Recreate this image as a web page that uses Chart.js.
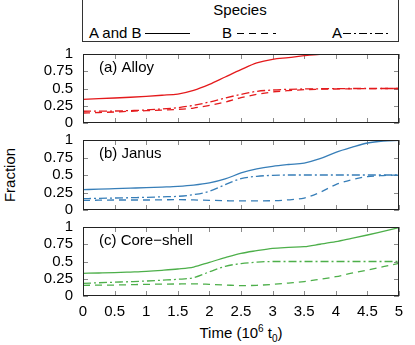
<!DOCTYPE html>
<html>
<head>
<meta charset="utf-8">
<script src="https://cdn.jsdelivr.net/npm/chart.js@4.4.1/dist/chart.umd.min.js"></script>
<style>
  body { margin: 0; width: 415px; height: 345px; overflow: hidden; background: #fff; position: relative;
         font-family: "Liberation Sans", Arial, sans-serif; font-size: 15px; color: #000; }
  canvas { position: absolute; left: 0; }
  #key { position: absolute; left: 82px; top: -2px; width: 317px; height: 44px; border: 1px solid #333; box-sizing: border-box; }
  .t { position: absolute; white-space: nowrap; line-height: 16px; }
  #keylines { position: absolute; left: 0; top: 0; }
  sup, sub { font-size: 10px; line-height: 0; }
</style>
</head>
<body>
<div id="key"></div>
<div class="t" style="left:240px; top:10px; transform:translate(-50%,-50%)">Species</div>
<div class="t" style="left:89px; top:25px">A and B</div>
<div class="t" style="left:222px; top:25px">B</div>
<div class="t" style="left:332px; top:25px">A</div>
<svg id="keylines" width="415" height="45">
  <line x1="145" y1="33.5" x2="190" y2="33.5" stroke="#000" stroke-width="1.2"/>
  <line x1="237" y1="33.5" x2="276" y2="33.5" stroke="#000" stroke-width="1.2" stroke-dasharray="7,5"/>
  <line x1="343" y1="33.5" x2="389" y2="33.5" stroke="#000" stroke-width="1.2" stroke-dasharray="8,3,2,3"/>
</svg>
<div class="t" style="left:10px; top:175px; transform:translate(-50%,-50%) rotate(-90deg)">Fraction</div>
<div class="t" style="left:241px; top:333px; transform:translate(-50%,-50%)">Time (10<sup>6</sup> t<sub>0</sub>)</div>

<canvas id="alloy" width="415" height="89" style="top:44px"></canvas>
<canvas id="janus" width="415" height="90" style="top:130px"></canvas>
<canvas id="coreshell" width="415" height="128" style="top:217px"></canvas>

<script>
// time axis, in units of 10^6 t0
const times = [0, 0.25, 0.5, 0.75, 1, 1.25, 1.5, 1.75, 2, 2.25, 2.5, 2.75, 3, 3.25, 3.5, 3.75, 4, 4.25, 4.5, 4.75, 5];
const xTicks = [0, 0.5, 1, 1.5, 2, 2.5, 3, 3.5, 4, 4.5, 5];
const yTicks = [0, 0.25, 0.5, 0.75, 1];

// (a) Alloy
const alloyAB = [0.343, 0.352, 0.362, 0.373, 0.386, 0.402, 0.42, 0.473, 0.56, 0.667, 0.773, 0.87, 0.923, 0.948, 0.975, 0.995, 1, 1, 1, 1, 1];
const alloyA  = [0.17, 0.172, 0.174, 0.18, 0.188, 0.204, 0.222, 0.256, 0.304, 0.362, 0.415, 0.459, 0.478, 0.488, 0.493, 0.496, 0.498, 0.5, 0.5, 0.5, 0.5];
const alloyB  = [0.145, 0.152, 0.16, 0.17, 0.179, 0.188, 0.198, 0.217, 0.256, 0.304, 0.367, 0.415, 0.449, 0.469, 0.483, 0.49, 0.493, 0.496, 0.498, 0.5, 0.5];

// (b) Janus
const janusAB = [0.29, 0.298, 0.305, 0.312, 0.319, 0.328, 0.338, 0.355, 0.386, 0.443, 0.529, 0.586, 0.624, 0.65, 0.671, 0.733, 0.824, 0.895, 0.957, 0.986, 0.995];
const janusA  = [0.162, 0.166, 0.171, 0.176, 0.181, 0.188, 0.195, 0.219, 0.267, 0.362, 0.448, 0.481, 0.495, 0.5, 0.5, 0.5, 0.5, 0.5, 0.5, 0.5, 0.5];
const janusB  = [0.138, 0.14, 0.143, 0.143, 0.143, 0.145, 0.148, 0.144, 0.138, 0.133, 0.129, 0.13, 0.133, 0.145, 0.171, 0.252, 0.362, 0.433, 0.476, 0.492, 0.5];

// (c) Core-shell
const coreAB = [0.329, 0.333, 0.338, 0.347, 0.357, 0.372, 0.391, 0.42, 0.488, 0.556, 0.618, 0.657, 0.691, 0.705, 0.715, 0.75, 0.787, 0.835, 0.884, 0.937, 0.99];
const coreA  = [0.184, 0.192, 0.2, 0.208, 0.217, 0.229, 0.242, 0.266, 0.35, 0.43, 0.47, 0.49, 0.5, 0.5, 0.5, 0.5, 0.5, 0.5, 0.5, 0.5, 0.5];
const coreB  = [0.155, 0.157, 0.159, 0.164, 0.169, 0.172, 0.174, 0.175, 0.169, 0.16, 0.15, 0.155, 0.169, 0.188, 0.208, 0.243, 0.28, 0.33, 0.377, 0.425, 0.473];

const FONT = { family: '"Liberation Sans", Arial, sans-serif', size: 15 };

// gnuplot style frame with inward ticks and the panel label
const framePlugin = {
  id: 'frame',
  beforeDatasetsDraw(chart) {
    const { ctx, chartArea: a, scales: { x, y } } = chart;
    ctx.save();
    ctx.strokeStyle = '#8a8a8a';
    ctx.lineWidth = 1;
    ctx.beginPath();
    xTicks.forEach(v => {
      const px = Math.round(x.getPixelForValue(v)) + 0.5;
      ctx.moveTo(px, a.top); ctx.lineTo(px, a.top + 5);
      ctx.moveTo(px, a.bottom); ctx.lineTo(px, a.bottom - 5);
    });
    yTicks.forEach(v => {
      const py = Math.round(y.getPixelForValue(v)) + 0.5;
      ctx.moveTo(a.left, py); ctx.lineTo(a.left + 5, py);
      ctx.moveTo(a.right, py); ctx.lineTo(a.right - 5, py);
    });
    ctx.stroke();
    ctx.restore();
  },
  afterDatasetsDraw(chart, args, opts) {
    const { ctx, chartArea: a } = chart;
    ctx.save();
    ctx.strokeStyle = '#222';
    ctx.lineWidth = 1;
    ctx.strokeRect(a.left + 0.5, a.top + 0.5, a.width - 1, a.height - 1);
    ctx.fillStyle = '#000';
    ctx.font = '15px "Liberation Sans", Arial, sans-serif';
    ctx.textBaseline = 'middle';
    ctx.fillText(opts.label, a.left + 16, a.top + 13.5);
    ctx.restore();
  }
};

function makePanel(id, label, color, ab, a, b, showX) {
  const pts = arr => times.map((t, i) => ({ x: t, y: arr[i] }));
  const line = (name, arr, dash) => ({
    label: name,
    data: pts(arr),
    borderColor: color,
    borderWidth: 1.3,
    borderDash: dash,
    pointRadius: 0,
    fill: false,
    cubicInterpolationMode: 'monotone'
  });
  new Chart(document.getElementById(id), {
    type: 'line',
    data: {
      datasets: [
        line('A and B', ab, []),
        line('B', b, [7, 5]),
        line('A', a, [8, 3, 2, 3])
      ]
    },
    options: {
      responsive: false,
      animation: false,
      devicePixelRatio: 1,
      layout: { padding: { top: 10, bottom: showX ? 0 : 10, left: 0, right: 16 } },
      plugins: { legend: { display: false }, tooltip: { enabled: false }, frame: { label: label } },
      scales: {
        x: {
          type: 'linear', min: 0, max: 5,
          display: showX,
          grid: { display: false, drawTicks: false },
          border: { display: false },
          ticks: { stepSize: 0.5, autoSkip: false, font: FONT, color: '#000', padding: 7, maxRotation: 0,
                   callback: v => String(v) },
          afterFit: s => { s.height = showX ? 49 : 0; }
        },
        y: {
          min: 0, max: 1,
          grid: { display: false, drawTicks: false },
          border: { display: false },
          ticks: { stepSize: 0.25, autoSkip: false, font: FONT, color: '#000', padding: 10,
                   callback: v => String(v) },
          // fixed width, and no extra room for the top/bottom labels (layout padding handles it)
          afterFit: s => { s.width = 83; s.paddingTop = 0; s.paddingBottom = 0; }
        }
      }
    },
    plugins: [framePlugin]
  });
}

makePanel('alloy', '(a) Alloy', '#e41a1c', alloyAB, alloyA, alloyB, false);
makePanel('janus', '(b) Janus', '#377eb8', janusAB, janusA, janusB, false);
makePanel('coreshell', '(c) Core\u2212shell', '#4daf4a', coreAB, coreA, coreB, true);
</script>
</body>
</html>
